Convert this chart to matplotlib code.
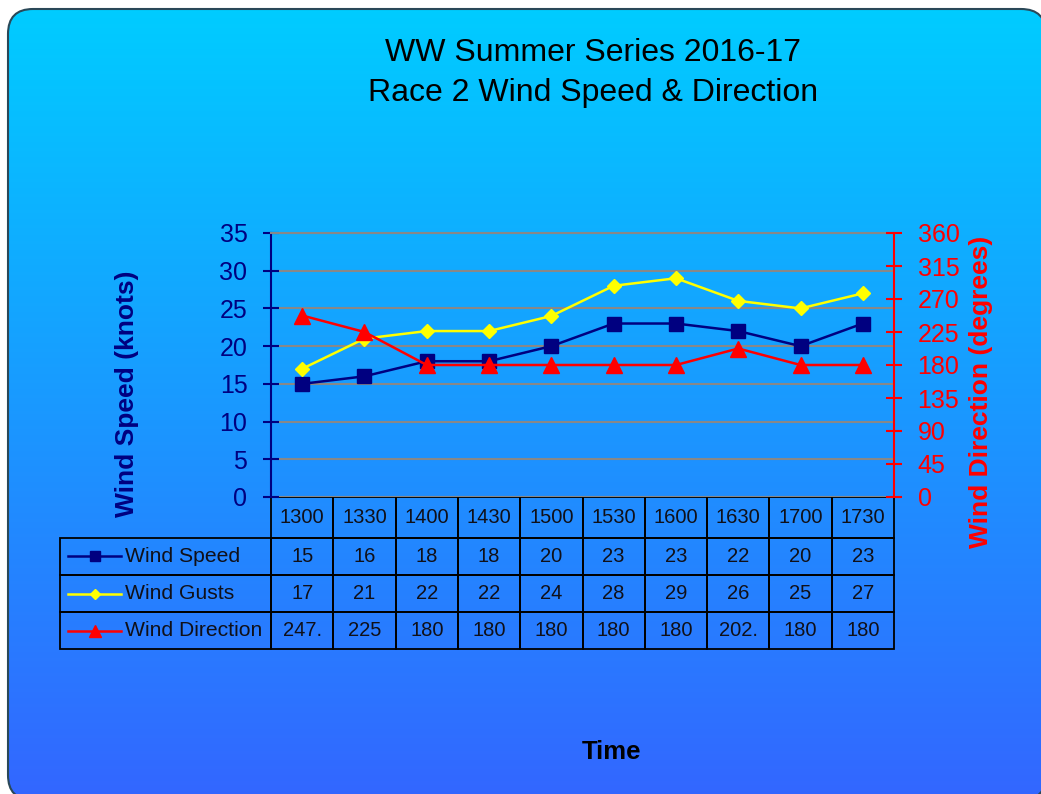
import numpy as np
import matplotlib.pyplot as plt
from matplotlib.colors import LinearSegmentedColormap
from matplotlib.patches import FancyBboxPatch
from matplotlib.lines import Line2D

plt.rcParams['font.family'] = ['Liberation Sans', 'DejaVu Sans']

# datos de la carrera
times = ["1300", "1330", "1400", "1430", "1500", "1530", "1600", "1630", "1700", "1730"]
wind_speed = [15, 16, 18, 18, 20, 23, 23, 22, 20, 23]
wind_gusts = [17, 21, 22, 22, 24, 28, 29, 26, 25, 27]
wind_direction = [247.5, 225, 180, 180, 180, 180, 180, 202.5, 180, 180]
series_names = ["Wind Speed", "Wind Gusts", "Wind Direction"]
speed_ticks = [0, 5, 10, 15, 20, 25, 30, 35]
dir_ticks = [0, 45, 90, 135, 180, 225, 270, 315, 360]

W, H = 1041, 794
NAVY = "#000080"
YELLOW = "#FFFF00"
RED = "#FF0000"

fig = plt.figure(figsize=(W / 100, H / 100), dpi=100)
fig.patch.set_facecolor("white")

# fondo con degradado y esquinas redondeadas
bg = fig.add_axes([0, 0, 1, 1], zorder=-10)
cmap = LinearSegmentedColormap.from_list("bg", ["#00CCFF", "#3366FF"])
grad = np.linspace(0, 1, 256).reshape(-1, 1)
img = bg.imshow(grad, cmap=cmap, extent=(8, 1046, 800, 9), aspect="auto")
bg.set_xlim(0, W)
bg.set_ylim(H, 0)
bg.axis("off")
# relleno casi transparente para que Agg no recorte mal las curvas fuera del lienzo
box = FancyBboxPatch((8, 9), 1038, 791, boxstyle="round,pad=0,rounding_size=25",
                     facecolor=(1, 1, 1, 0.002), edgecolor="#2a4858", linewidth=1.5)
bg.add_patch(box)
img.set_clip_path(box)

# ejes principales
ax = fig.add_axes([271 / W, 1 - 497 / H, 623 / W, 264 / H])
ax.set_facecolor("none")
x = np.arange(len(times))
ax.plot(x, wind_speed, color=NAVY, lw=1.8, marker="s", ms=10, zorder=3)
ax.plot(x, wind_gusts, color=YELLOW, lw=1.8, marker="D", ms=7, zorder=3)
ax.set_xlim(-0.5, len(times) - 0.5)
ax.set_ylim(0, 35)
ax.set_yticks(speed_ticks)
ax.set_xticks([])
ax.grid(axis="y", color="#888888", lw=1.5)
ax.set_axisbelow(True)
for s in ["bottom", "right"]:
    ax.spines[s].set_visible(False)
ax.spines["top"].set_color("#888888")
ax.spines["top"].set_linewidth(1.5)
ax.spines["left"].set_color(NAVY)
ax.spines["left"].set_linewidth(1.5)
ax.tick_params(axis="y", colors=NAVY, labelsize=18, direction="inout", length=12,
               width=1.5, pad=11)
ax.set_ylabel("Wind Speed (knots)", color=NAVY, fontsize=19, fontweight="bold")
ax.yaxis.set_label_coords(-0.212, 0.39)

ax2 = ax.twinx()
ax2.plot(x, wind_direction, color=RED, lw=1.8, marker="^", ms=11, zorder=3)
ax2.set_ylim(0, 360)
ax2.set_yticks(dir_ticks)
for s in ["top", "bottom", "left"]:
    ax2.spines[s].set_visible(False)
ax2.spines["right"].set_color(RED)
ax2.spines["right"].set_linewidth(1.5)
ax2.tick_params(axis="y", colors=RED, labelsize=18, direction="inout", length=12,
                width=1.5, pad=11)
ax2.set_ylabel("Wind Direction (degrees)", color=RED, fontsize=19, fontweight="bold",
               rotation=90)
ax2.yaxis.set_label_coords(1.121, 0.40)

# tabla de datos
def fmt(v):
    return f"{v:g}"[:4]

cell_text = [[series_names[0]] + [fmt(v) for v in wind_speed],
             [series_names[1]] + [fmt(v) for v in wind_gusts],
             [series_names[2]] + [fmt(v) for v in wind_direction]]
tbl = ax.table(cellText=cell_text, colLabels=[""] + times, cellLoc="center",
               bbox=[(60 - 271) / 623, (497 - 649) / 264, (894 - 60) / 623, 152 / 264])
tbl.auto_set_font_size(False)
tbl.set_fontsize(14.5)
for (r, c), cell in tbl.get_celld().items():
    cell.set_facecolor("none")
    cell.set_edgecolor("black")
    cell.set_linewidth(1.3)
    cell.get_text().set_color("#101018")
    cell.set_width(211 if c == 0 else 62.3)
    cell.set_height(41 if r == 0 else 37)
    if c == 0:
        cell.get_text().set_ha("left")
        cell.get_text().set_fontsize(15.2)
        cell._loc = "left"
        cell.PAD = 0.31
tbl[(0, 0)].visible_edges = "open"

# claves de leyenda dentro de la tabla
fig.canvas.draw()
renderer = fig.canvas.get_renderer()
styles = [(NAVY, "s", 7), (YELLOW, "D", 5.5), (RED, "^", 9)]
for i, (col, mk, ms) in enumerate(styles):
    bb = tbl[(i + 1, 0)].get_window_extent(renderer)
    yc = (bb.y0 + bb.y1) / 2 / H
    x0 = (bb.x0 + 8) / W
    x1 = (bb.x0 + 61) / W
    fig.add_artist(Line2D([x0, x1], [yc, yc], color=col, lw=1.8, transform=fig.transFigure))
    fig.add_artist(Line2D([(x0 + x1) / 2], [yc], color=col, marker=mk, ms=ms,
                          transform=fig.transFigure))

# titulos
fig.text(593 / W, 1 - 53 / H, "WW Summer Series 2016-17", ha="center", va="center",
         fontsize=23, color="black")
fig.text(593 / W, 1 - 93 / H, "Race 2 Wind Speed & Direction", ha="center", va="center",
         fontsize=23, color="black")
fig.text(611 / W, 1 - 752 / H, "Time", ha="center", va="center", fontsize=18.5,
         fontweight="bold", color="black")

fig.savefig("out.png", dpi=100)
